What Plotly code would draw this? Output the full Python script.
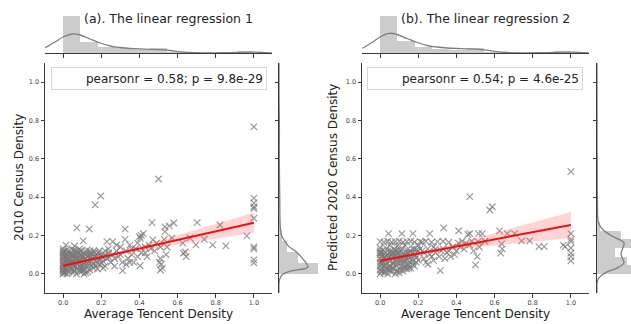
import plotly.graph_objects as go

# ---------------- data ----------------
xa = [0.0, 0.01, 0.02, 0.03, 0.05, 0.07, 0.09, 0.11, 0.13, 0.0,
      0.0, 0.015, 0.035, 0.055, 0.075, 0.095, 0.12, 0.14, 0.16, 0.18,
      0.0, 0.02, 0.04, 0.06, 0.08, 0.1, 0.125, 0.15, 0.19, 0.22,
      0.0, 0.01, 0.03, 0.05, 0.07, 0.09, 0.11, 0.135, 0.17, 0.21,
      0.0, 0.025, 0.045, 0.065, 0.085, 0.105, 0.13, 0.155, 0.2, 0.24,
      0.0, 0.015, 0.035, 0.055, 0.075, 0.095, 0.115, 0.14, 0.165, 0.0,
      0.0, 0.0, 0.0, 0.0, 0.0, 0.0, 0.005, 0.005, 0.005, 0.005,
      0.02, 0.04, 0.06, 0.08, 0.1, 0.12, 0.03, 0.05, 0.07, 0.09,
      0.02, 0.04, 0.06, 0.08, 0.1, 0.12, 0.14, 0.045, 0.085, 0.125,
      0.16, 0.17, 0.18, 0.19, 0.2, 0.21, 0.22, 0.23, 0.237, 0.25,
      0.26, 0.26, 0.27, 0.28, 0.29, 0.3, 0.31, 0.312, 0.325, 0.325,
      0.33, 0.34, 0.35, 0.36, 0.37, 0.38, 0.39, 0.4, 0.403, 0.41,
      0.42, 0.43, 0.44, 0.45, 0.466, 0.47, 0.48, 0.49, 0.5, 0.51,
      0.51, 0.52, 0.53, 0.534, 0.534, 0.545, 0.54, 0.556, 0.57, 0.58,
      0.627, 0.63, 0.64, 0.645, 0.665, 0.696, 0.703, 0.74, 0.784, 0.822,
      0.853, 0.963, 0.072, 0.137, 0.105, 0.168, 0.197, 0.229, 0.015, 0.06,
      1.0, 1.0, 1.0, 1.0, 1.0, 1.0, 1.0, 1.0, 1.0, 1.0,
      0.505, 0.51, 0.515, 0.41, 0.405,
      0.01, 0.03, 0.05, 0.07, 0.09, 0.11, 0.13, 0.15, 0.0, 0.02,
      0.04, 0.06, 0.08, 0.1, 0.12, 0.14, 0.16, 0.18, 0.2, 0.22,
      0.01, 0.03, 0.05, 0.07, 0.09, 0.11, 0.13, 0.15, 0.17, 0.19,
      0.025, 0.045, 0.065, 0.085, 0.105, 0.125, 0.145, 0.165, 0.185, 0.21,
      0.24, 0.27, 0.3, 0.33, 0.36, 0.39, 0.43, 0.46, 0.35, 0.28]
ya = [0.0, 0.005, 0.0, 0.01, 0.005, 0.0, 0.01, 0.0, 0.01, 0.015,
      0.03, 0.025, 0.035, 0.02, 0.03, 0.025, 0.035, 0.02, 0.03, 0.025,
      0.05, 0.045, 0.055, 0.04, 0.05, 0.045, 0.055, 0.045, 0.05, 0.04,
      0.07, 0.065, 0.075, 0.06, 0.07, 0.065, 0.075, 0.06, 0.07, 0.065,
      0.09, 0.085, 0.095, 0.08, 0.09, 0.085, 0.095, 0.08, 0.09, 0.085,
      0.11, 0.12, 0.105, 0.125, 0.115, 0.12, 0.105, 0.12, 0.11, 0.13,
      0.02, 0.04, 0.06, 0.08, 0.1, 0.12, 0.01, 0.055, 0.095, 0.115,
      0.015, 0.025, 0.015, 0.02, 0.015, 0.005, 0.05, 0.045, 0.055, 0.04,
      0.1, 0.08, 0.1, 0.11, 0.1, 0.08, 0.1, 0.13, 0.13, 0.125,
      0.12, 0.09, 0.06, 0.12, 0.1, 0.03, 0.12, 0.08, 0.13, 0.06,
      0.168, 0.1, 0.04, 0.12, 0.09, 0.14, 0.06, 0.017, 0.18, 0.233,
      0.12, 0.08, 0.15, 0.1, 0.06, 0.13, 0.16, 0.194, 0.042, 0.11,
      0.21, 0.14, 0.09, 0.15, 0.267, 0.177, 0.12, 0.16, 0.495, 0.14,
      0.08, 0.03, 0.18, 0.245, 0.22, 0.14, 0.1, 0.25, 0.187, 0.265,
      0.16, 0.108, 0.114, 0.09, 0.187, 0.151, 0.267, 0.18, 0.151, 0.255,
      0.146, 0.198, 0.24, 0.234, 0.172, 0.36, 0.406, 0.168, 0.15, 0.145,
      0.767, 0.395, 0.37, 0.35, 0.34, 0.29, 0.14, 0.13, 0.073, 0.057,
      0.06, 0.02, 0.05, 0.2, 0.185,
      0.04, 0.06, 0.08, 0.1, 0.12, 0.02, 0.04, 0.065, 0.005, 0.07,
      0.11, 0.035, 0.065, 0.09, 0.115, 0.085, 0.05, 0.09, 0.055, 0.1,
      0.09, 0.12, 0.1, 0.085, 0.1, 0.055, 0.07, 0.1, 0.04, 0.075,
      0.055, 0.065, 0.12, 0.075, 0.035, 0.09, 0.11, 0.09, 0.11, 0.085,
      0.11, 0.08, 0.1, 0.05, 0.13, 0.09, 0.11, 0.13, 0.06, 0.15]

xb = [0.0, 0.02, 0.04, 0.06, 0.08, 0.1, 0.12, 0.0, 0.03, 0.05,
      0.07, 0.09, 0.11, 0.14, 0.16, 0.0, 0.02, 0.045, 0.065, 0.085,
      0.105, 0.13, 0.15, 0.18, 0.0, 0.015, 0.035, 0.055, 0.075, 0.095,
      0.12, 0.145, 0.17, 0.2, 0.0, 0.025, 0.045, 0.065, 0.085, 0.11,
      0.135, 0.16, 0.19, 0.0, 0.02, 0.04, 0.06, 0.08, 0.1, 0.125,
      0.15, 0.18, 0.0, 0.015, 0.035, 0.055, 0.075, 0.095, 0.115, 0.14,
      0.17, 0.2, 0.005, 0.005, 0.005, 0.005, 0.0, 0.01, 0.01, 0.03,
      0.0, 0.02, 0.04, 0.06, 0.08, 0.1, 0.12, 0.14, 0.16, 0.18,
      0.21, 0.24, 0.27, 0.3, 0.33, 0.36, 0.05, 0.09, 0.13, 0.2,
      0.044, 0.114, 0.172, 0.26, 0.333, 0.412, 0.47, 0.46, 0.535, 0.516,
      0.22, 0.23, 0.25, 0.26, 0.28, 0.29, 0.31, 0.316, 0.32, 0.34,
      0.35, 0.37, 0.38, 0.4, 0.41, 0.42, 0.43, 0.44, 0.45, 0.47,
      0.48, 0.49, 0.5, 0.509, 0.513, 0.52, 0.47, 0.588, 0.575, 0.626,
      0.637, 0.64, 0.632, 0.667, 0.705, 0.742, 0.784, 0.833, 0.86, 0.97,
      1.0, 1.0, 1.0, 1.0, 1.0, 1.0, 1.0, 1.0, 0.96, 0.55,
      0.01, 0.03, 0.05, 0.07, 0.09, 0.11, 0.13, 0.15, 0.17, 0.19,
      0.0, 0.02, 0.04, 0.06, 0.08, 0.1, 0.12, 0.14, 0.16, 0.18,
      0.01, 0.03, 0.05, 0.07, 0.09, 0.11, 0.13, 0.15, 0.17, 0.19,
      0.025, 0.045, 0.065, 0.085, 0.105, 0.125, 0.145, 0.165, 0.185, 0.21,
      0.23, 0.25, 0.27, 0.29, 0.24, 0.33, 0.36, 0.39, 0.22, 0.28]
yb = [0.0, 0.005, 0.0, 0.01, 0.0, 0.005, 0.015, 0.02, 0.025, 0.02,
      0.03, 0.02, 0.035, 0.025, 0.03, 0.04, 0.045, 0.04, 0.05, 0.045,
      0.055, 0.04, 0.05, 0.04, 0.06, 0.065, 0.06, 0.07, 0.065, 0.075,
      0.06, 0.07, 0.065, 0.07, 0.08, 0.085, 0.08, 0.09, 0.085, 0.09,
      0.08, 0.09, 0.085, 0.1, 0.105, 0.1, 0.11, 0.1, 0.11, 0.105,
      0.11, 0.1, 0.12, 0.125, 0.13, 0.12, 0.13, 0.125, 0.13, 0.125,
      0.13, 0.12, 0.01, 0.05, 0.09, 0.11, 0.135, 0.03, 0.07, 0.095,
      0.168, 0.165, 0.17, 0.165, 0.168, 0.17, 0.165, 0.168, 0.17, 0.165,
      0.168, 0.17, 0.165, 0.168, 0.17, 0.165, 0.15, 0.145, 0.15, 0.15,
      0.21, 0.21, 0.21, 0.21, 0.24, 0.225, 0.21, 0.205, 0.21, 0.21,
      0.12, 0.08, 0.05, 0.1, 0.07, 0.13, 0.09, 0.017, 0.12, 0.08,
      0.11, 0.09, 0.14, 0.12, 0.16, 0.14, 0.17, 0.13, 0.16, 0.15,
      0.17, 0.12, 0.047, 0.09, 0.168, 0.14, 0.403, 0.35, 0.333, 0.224,
      0.156, 0.13, 0.108, 0.21, 0.21, 0.172, 0.172, 0.142, 0.142, 0.142,
      0.533, 0.21, 0.18, 0.168, 0.135, 0.108, 0.09, 0.068, 0.15, 0.17,
      0.015, 0.045, 0.035, 0.055, 0.06, 0.075, 0.095, 0.09, 0.11, 0.125,
      0.11, 0.085, 0.12, 0.1, 0.12, 0.095, 0.085, 0.11, 0.115, 0.13,
      0.055, 0.075, 0.09, 0.11, 0.105, 0.12, 0.065, 0.03, 0.05, 0.06,
      0.01, 0.02, 0.03, 0.01, 0.02, 0.03, 0.045, 0.075, 0.1, 0.13,
      0.11, 0.13, 0.09, 0.11, 0.06, 0.13, 0.12, 0.1, 0.165, 0.14]

# regression fits with confidence bands
reg_x = [0.0, 0.2, 0.4, 0.6, 0.8, 1.0]
reg_a = [0.042, 0.087, 0.132, 0.177, 0.222, 0.267]
ci_lo_a = [0.032, 0.080, 0.120, 0.152, 0.184, 0.215]
ci_hi_a = [0.052, 0.094, 0.144, 0.202, 0.260, 0.319]
reg_b = [0.068, 0.105, 0.143, 0.180, 0.218, 0.255]
ci_lo_b = [0.060, 0.098, 0.128, 0.147, 0.168, 0.187]
ci_hi_b = [0.076, 0.112, 0.158, 0.213, 0.268, 0.323]

# top marginal histograms (x) and kde
top_bin_w = 0.0909
top_edges = [0.0, 0.0909, 0.1818, 0.2727, 0.3636, 0.4545, 0.5455, 0.6364, 0.7273, 0.8182, 0.9091]
top_hist_a = [3.7, 1.13, 0.63, 0.47, 0.30, 0.53, 0.13, 0.08, 0.05, 0.05, 0.20]
top_hist_b = [3.7, 1.20, 0.65, 0.45, 0.35, 0.55, 0.15, 0.10, 0.05, 0.05, 0.20]
top_kde_x = [-0.094, -0.042, 0.0, 0.047, 0.089, 0.141, 0.194, 0.246, 0.298, 0.351, 0.403,
             0.455, 0.508, 0.56, 0.613, 0.665, 0.717, 0.796, 0.874, 0.953, 1.005, 1.058, 1.094]
top_kde_a = [0.53, 1.1, 1.6, 1.9, 1.8, 1.4, 1.0, 0.7, 0.55, 0.45, 0.4,
             0.37, 0.33, 0.25, 0.12, 0.05, 0.02, 0.02, 0.04, 0.08, 0.08, 0.04, 0.01]
top_kde_b = [0.47, 1.05, 1.6, 1.97, 1.85, 1.45, 1.05, 0.75, 0.6, 0.5, 0.45,
             0.42, 0.38, 0.28, 0.13, 0.05, 0.02, 0.02, 0.04, 0.08, 0.08, 0.04, 0.01]

# right marginal histograms (y) and kde
right_bin_a = 0.0573
right_edges_a = [0.0, 0.0573, 0.1146, 0.1719, 0.2292, 0.2865, 0.3438, 0.4011, 0.4584, 0.5157,
                 0.573, 0.6303, 0.6876, 0.7449]
right_hist_a = [3.9, 1.9, 0.8, 0.3, 0.12, 0.04, 0.1, 0.0, 0.03, 0.0, 0.0, 0.0, 0.0, 0.03]
right_bin_b = 0.045
right_edges_b = [0.0, 0.045, 0.09, 0.135, 0.18, 0.225, 0.27, 0.315, 0.36, 0.405, 0.45, 0.495]
right_hist_b = [3.5, 3.0, 1.8, 3.4, 2.4, 0.3, 0.05, 0.05, 0.1, 0.0, 0.0, 0.03]
right_kde_ya = [-0.1, -0.05, -0.031, -0.005, 0.012, 0.035, 0.057, 0.09, 0.12, 0.142, 0.177,
                0.2, 0.23, 0.28, 0.385, 0.49, 0.646, 0.77, 0.9, 1.1]
right_kde_a = [0.0, 0.0, 0.05, 0.3, 1.0, 2.9, 2.7, 2.2, 1.6, 1.0, 0.5,
               0.25, 0.15, 0.1, 0.08, 0.05, 0.03, 0.04, 0.01, 0.0]
right_kde_yb = [-0.1, -0.05, -0.03, -0.01, 0.01, 0.03, 0.057, 0.08, 0.104, 0.13, 0.161,
                0.2, 0.23, 0.26, 0.29, 0.35, 0.45, 0.53, 0.65, 1.1]
right_kde_b = [0.0, 0.0, 0.1, 0.4, 1.0, 2.0, 2.7, 2.55, 2.4, 2.55, 2.7,
               1.4, 0.6, 0.2, 0.08, 0.05, 0.03, 0.03, 0.01, 0.0]

ticks = [0.0, 0.2, 0.4, 0.6, 0.8, 1.0]
tick_text = ["0.0", "0.2", "0.4", "0.6", "0.8", "1.0"]
titles = ["(a). The linear regression 1", "(b). The linear regression 2"]
ylabels = ["2010 Census Density", "Predicted 2020 Census Density"]
xlabel = "Average Tencent Density"
stats = ["pearsonr = 0.58; p = 9.8e-29", "pearsonr = 0.54; p = 4.6e-25"]

# ---------------- layout helpers ----------------
W, H = 631, 324
def fx(p): return p / W
def fy(p): return 1 - p / H

MARK = "rgba(120,120,120,0.75)"
HISTC = "rgba(128,128,128,0.4)"
KDEC = "#7f7f7f"
SPINE = "#3a3a3a"

fig = go.Figure()

panels = [
    dict(x=xa, y=ya, reg=reg_a, lo=ci_lo_a, hi=ci_hi_a, th=top_hist_a, tk=top_kde_a,
         redges=right_edges_a, rbin=right_bin_a, rh=right_hist_a, rky=right_kde_ya, rk=right_kde_a,
         main=(45, 272), right=(279, 322), ax=["", "2", "3"]),
    dict(x=xb, y=yb, reg=reg_b, lo=ci_lo_b, hi=ci_hi_b, th=top_hist_b, tk=top_kde_b,
         redges=right_edges_b, rbin=right_bin_b, rh=right_hist_b, rky=right_kde_yb, rk=right_kde_b,
         main=(362, 589), right=(597, 631), ax=["4", "5", "6"]),
]

for p in panels:
    m, t, r = p["ax"]
    fig.add_trace(go.Scatter(x=p["x"], y=p["y"], mode="markers", xaxis="x" + m, yaxis="y" + m,
                             marker=dict(symbol="x-thin", size=6.5, color=MARK,
                                         line=dict(width=1.2, color=MARK)),
                             showlegend=False, hoverinfo="skip"))
    fig.add_trace(go.Scatter(x=reg_x, y=p["lo"], mode="lines", line=dict(width=0),
                             xaxis="x" + m, yaxis="y" + m, showlegend=False, hoverinfo="skip"))
    fig.add_trace(go.Scatter(x=reg_x, y=p["hi"], mode="lines", line=dict(width=0),
                             fill="tonexty", fillcolor="rgba(255,60,60,0.22)",
                             xaxis="x" + m, yaxis="y" + m, showlegend=False, hoverinfo="skip"))
    fig.add_trace(go.Scatter(x=reg_x, y=p["reg"], mode="lines", line=dict(width=2, color="#ee1111"),
                             xaxis="x" + m, yaxis="y" + m, showlegend=False, hoverinfo="skip"))
    fig.add_trace(go.Bar(x=top_edges, y=p["th"], width=top_bin_w, offset=0,
                         marker=dict(color=HISTC, line=dict(width=0)),
                         xaxis="x" + t, yaxis="y" + t, showlegend=False, hoverinfo="skip"))
    fig.add_trace(go.Scatter(x=top_kde_x, y=p["tk"], mode="lines", line=dict(width=1.3, color=KDEC, shape="spline"),
                             xaxis="x" + t, yaxis="y" + t, showlegend=False, hoverinfo="skip"))
    fig.add_trace(go.Bar(y=p["redges"], x=p["rh"], width=p["rbin"], offset=0, orientation="h",
                         marker=dict(color=HISTC, line=dict(width=0)),
                         xaxis="x" + r, yaxis="y" + r, showlegend=False, hoverinfo="skip"))
    fig.add_trace(go.Scatter(x=p["rk"], y=p["rky"], mode="lines", line=dict(width=1.3, color=KDEC, shape="spline"),
                             xaxis="x" + r, yaxis="y" + r, showlegend=False, hoverinfo="skip"))

tickfont = dict(size=6.5, color="#444", family="DejaVu Sans")
layout = dict(width=W, height=H, margin=dict(l=0, r=0, t=0, b=0),
              paper_bgcolor="white", plot_bgcolor="white", bargap=0,
              font=dict(family="DejaVu Sans", color="#222"))

main_y = [fy(293), fy(63)]
top_y = [fy(53), fy(10)]
for i, p in enumerate(panels):
    m, t, r = p["ax"]
    mdom = [fx(p["main"][0]), fx(p["main"][1])]
    rdom = [fx(p["right"][0]), min(1.0, fx(p["right"][1]))]
    rrange = [0, (p["right"][1] - p["right"][0]) / 10.0]
    layout["xaxis" + m] = dict(domain=mdom, range=[-0.095, 1.095], anchor="y" + m,
                               showline=True, linecolor=SPINE, linewidth=1, ticks="outside",
                               ticklen=3.5, tickcolor=SPINE, tickvals=ticks, ticktext=tick_text,
                               tickfont=tickfont, showgrid=False, zeroline=False)
    layout["yaxis" + m] = dict(domain=main_y, range=[-0.1, 1.1], anchor="x" + m,
                               showline=True, linecolor=SPINE, linewidth=1, ticks="outside",
                               ticklen=3.5, tickcolor=SPINE, tickvals=ticks, ticktext=tick_text,
                               tickfont=tickfont, showgrid=False, zeroline=False)
    layout["xaxis" + t] = dict(domain=mdom, range=[-0.095, 1.095], anchor="y" + t,
                               showline=True, linecolor=SPINE, linewidth=1, ticks="outside",
                               ticklen=3.5, tickcolor=SPINE, tickvals=ticks, showticklabels=False,
                               showgrid=False, zeroline=False)
    layout["yaxis" + t] = dict(domain=top_y, range=[0, 4.3], anchor="x" + t, visible=False)
    layout["xaxis" + r] = dict(domain=rdom, range=rrange, anchor="y" + r, visible=False)
    layout["yaxis" + r] = dict(domain=main_y, range=[-0.1, 1.1], anchor="x" + r,
                               showline=True, linecolor=SPINE, linewidth=1, ticks="outside",
                               ticklen=3.5, tickcolor=SPINE, tickvals=ticks, showticklabels=False,
                               showgrid=False, zeroline=False)

annotations = []
title_cx = [168, 485]
stat_cx = [158.7, 475]
ylab_cx = [19, 333]
xlab_cx = [158.5, 475.5]
for i in range(2):
    annotations.append(dict(text=titles[i], x=fx(title_cx[i]), y=fy(18), xref="paper", yref="paper",
                            showarrow=False, xanchor="center", yanchor="middle",
                            font=dict(size=12.5, color="#222")))
    annotations.append(dict(text=stats[i], x=fx(stat_cx[i]), y=fy(78.5), xref="paper", yref="paper",
                            showarrow=False, xanchor="center", yanchor="middle", align="right",
                            width=208, height=15, borderpad=3, bordercolor="#d6d6d6", borderwidth=1,
                            bgcolor="white", font=dict(size=12, color="#222")))
    annotations.append(dict(text=ylabels[i], x=fx(ylab_cx[i]), y=fy(178), xref="paper", yref="paper",
                            showarrow=False, xanchor="center", yanchor="middle", textangle=-90,
                            font=dict(size=12, color="#222")))
    annotations.append(dict(text=xlabel, x=fx(xlab_cx[i]), y=fy(314), xref="paper", yref="paper",
                            showarrow=False, xanchor="center", yanchor="middle",
                            font=dict(size=12, color="#222")))
layout["annotations"] = annotations

fig.update_layout(**layout)
fig.write_html("out.html", config={"displayModeBar": False},
               post_script="document.body.style.margin='0';document.body.style.padding='0';"
                           "document.body.style.overflow='hidden';")
